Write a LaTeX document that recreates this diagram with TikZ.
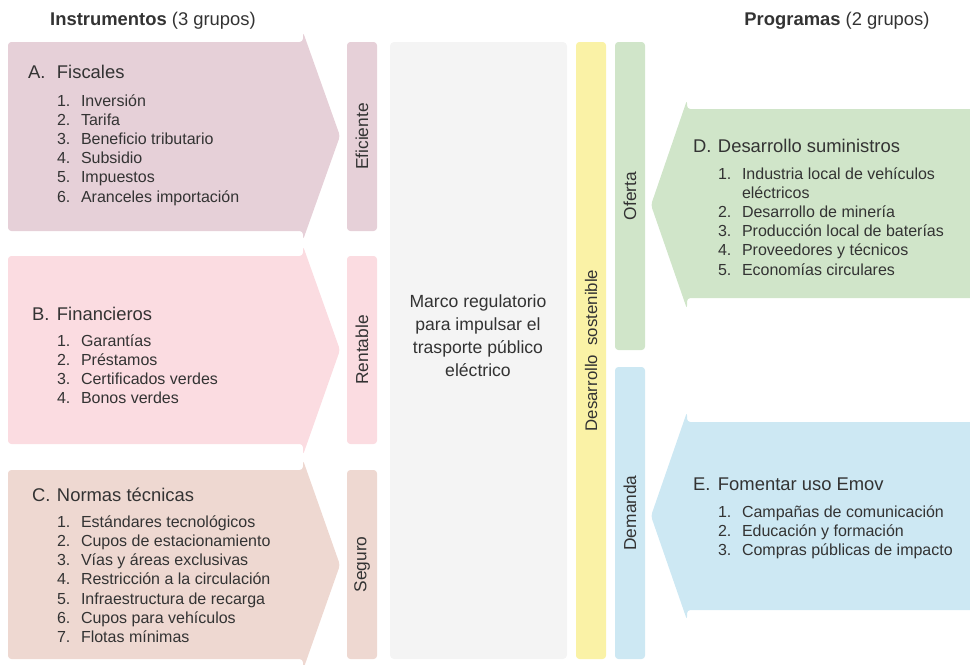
\documentclass[tikz,border=0pt]{standalone}
\usepackage{fontspec}
\setmainfont{Liberation Sans}
\definecolor{fiscal}{HTML}{E6D0D8}
\definecolor{financ}{HTML}{FBDCE1}
\definecolor{normas}{HTML}{EED8D1}
\definecolor{sosten}{HTML}{FAF2A6}
\definecolor{oferta}{HTML}{D0E5C9}
\definecolor{demanda}{HTML}{CDE8F3}
\definecolor{marco}{HTML}{F4F4F4}
\definecolor{texto}{HTML}{333333}

\begin{document}
\begin{tikzpicture}[x=0.75pt, y=-0.75pt, text=texto,
	every node/.style={inner sep=0pt, outer sep=0pt},
	flecha/.style={rounded corners=2.5pt},
	barra/.style={rounded corners=2.5pt, rotate=90, minimum height=22.5pt, font=\fontsize{13}{15}\selectfont},
	titulo/.style={anchor=base, font=\fontsize{13.8}{16}\selectfont},
	grupo/.style={anchor=base west, font=\fontsize{13.8}{16}\selectfont},
	punto/.style={anchor=base west, font=\fontsize{12}{14}\selectfont}]
	\useasboundingbox (0,0) rectangle (970,664);

	% titulos
	\node[titulo] (tInst) at (153,25) {\textbf{Instrumentos} (3 grupos)};
	\node[titulo] (tProg) at (837,25) {\textbf{Programas} (2 grupos)};

	% flechas de instrumentos
	\fill[fiscal, flecha] (8,42) -- ++(295,0) -- ++(0,-10) -- (340,136) -- (303,240) -- ++(0,-9) -- (8,231) -- cycle;
	\fill[financ, flecha] (8,256) -- ++(295,0) -- ++(0,-10) -- (340,350) -- (303,455) -- ++(0,-11) -- (8,444) -- cycle;
	\fill[normas, flecha] (8,470) -- ++(295,0) -- ++(0,-10) -- (340,565) -- (303,670) -- ++(0,-11) -- (8,659) -- cycle;
	% flechas de programas
	\fill[oferta, flecha] (975,109) -- (687,109) -- ++(0,-9) -- (651,205) -- (687,309) -- ++(0,-11) -- (975,298) -- cycle;
	\fill[demanda, flecha] (975,422) -- (687,422) -- ++(0,-10) -- (651,516) -- (687,620) -- ++(0,-10) -- (975,610) -- cycle;

	% barras
	\node[barra, fill=fiscal, minimum width=141.75pt] (efic) at (362,136.5) {Eficiente};
	\node[barra, fill=financ, minimum width=141pt] (rent) at (362,350) {Rentable};
	\node[barra, fill=normas, minimum width=141.75pt] (seg) at (362,564.5) {Seguro};
	\node[fill=marco, rounded corners=3pt, minimum width=132.75pt, minimum height=462.75pt] (mrc) at (478.5,350.5) {};
	\node[barra, fill=sosten, minimum width=462.75pt, font=\fontsize{12.6}{15}\selectfont] (sost) at (591,350.5) {Desarrollo\ \ sostenible};
	\node[barra, fill=oferta, minimum width=231pt] (ofe) at (630,196) {Oferta};
	\node[barra, fill=demanda, minimum width=219pt] (dem) at (630,513) {Demanda};

	\node[align=center, font=\fontsize{13.2}{17.3}\selectfont] (txtMarco) at (478,336) {Marco regulatorio\\para impulsar el\\trasporte público\\eléctrico};

	% grupos
	\node[grupo] (hA) at (28,78) {\makebox[21.75pt][l]{A.}Fiscales};
	\foreach \t [count=\i] in {Inversión, Tarifa, Beneficio tributario, Subsidio, Impuestos, Aranceles importación}
		\node[punto] (a\i) at (57,{106+19.2*(\i-1)}) {\makebox[18pt][l]{\i.}\t};

	\node[grupo] (hB) at (32,320) {\makebox[18.75pt][l]{B.}Financieros};
	\foreach \t [count=\i] in {Garantías, Préstamos, Certificados verdes, Bonos verdes}
		\node[punto] (b\i) at (57,{346+19.2*(\i-1)}) {\makebox[18pt][l]{\i.}\t};

	\node[grupo] (hC) at (32,501) {\makebox[18.75pt][l]{C.}Normas técnicas};
	\foreach \t [count=\i] in {Estándares tecnológicos, Cupos de estacionamiento, Vías y áreas exclusivas, Restricción a la circulación, Infraestructura de recarga, Cupos para vehículos, Flotas mínimas}
		\node[punto] (c\i) at (57,{527+19.3*(\i-1)}) {\makebox[18pt][l]{\i.}\t};

	\node[grupo] (hD) at (693,152) {\makebox[18.75pt][l]{D.}Desarrollo suministros};
	\foreach \n/\t [count=\i from 0] in {1./Industria local de vehículos, /eléctricos, 2./Desarrollo de minería, 3./Producción local de baterías, 4./Proveedores y técnicos, 5./Economías circulares}
		\node[punto] (d\i) at (718,{179+19.2*\i}) {\makebox[18pt][l]{\n}\t};

	\node[grupo] (hE) at (693,490) {\makebox[18.75pt][l]{E.}Fomentar uso Emov};
	\foreach \t [count=\i] in {Campañas de comunicación, Educación y formación, Compras públicas de impacto}
		\node[punto] (e\i) at (718,{517+19.2*(\i-1)}) {\makebox[18pt][l]{\i.}\t};
\end{tikzpicture}
\end{document}
